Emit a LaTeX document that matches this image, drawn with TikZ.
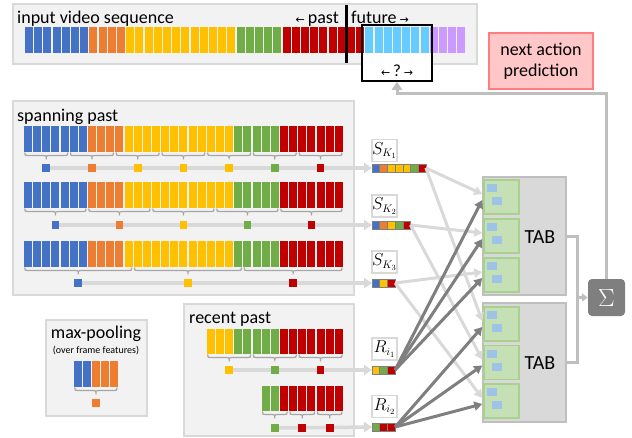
\documentclass[tikz,border=0pt]{standalone}
\usepackage{fontspec}
\setmainfont{Carlito}
\newfontfamily\arrowfont{DejaVu Sans}
\usetikzlibrary{arrows.meta,calc}
\definecolor{cB}{HTML}{4472C4}
\definecolor{cO}{HTML}{ED7D31}
\definecolor{cY}{HTML}{FFC000}
\definecolor{cG}{HTML}{70AD47}
\definecolor{cR}{HTML}{C00000}
\definecolor{cL}{HTML}{66CCFF}
\definecolor{cP}{HTML}{CC99FF}
\definecolor{panelfill}{HTML}{F2F2F2}
\definecolor{panelline}{HTML}{D9D9D9}
\definecolor{lightarr}{HTML}{D9D9D9}
\definecolor{darkarr}{HTML}{7F7F7F}
\definecolor{bracegray}{HTML}{A6A6A6}
\definecolor{tabfill}{HTML}{D9D9D9}
\definecolor{tabline}{HTML}{BFBFBF}
\definecolor{subfill}{HTML}{C5E0B4}
\definecolor{subline}{HTML}{A9D18E}
\definecolor{qfill}{HTML}{9DC3E6}
\definecolor{predfill}{HTML}{FFC7C7}
\definecolor{predline}{HTML}{FF7C80}
\pgfdeclarelayer{panels}
\pgfdeclarelayer{lines}
\pgfsetlayers{panels,lines,main}
\newcommand\larr{{\arrowfont\fontsize{11}{12}\selectfont ←}}
\newcommand\rarr{{\arrowfont\fontsize{11}{12}\selectfont →}}
\def\spanlist{cB,cB,cB,cB,cB,cB,cB,cO,cO,cO,cO,cY,cY,cY,cY,cY,cY,cY,cY,cY,cY,cY,cY,cG,cG,cG,cG,cG,cR,cR,cR,cR,cR,cR,cR}
\def\toplist{cB,cB,cB,cB,cB,cB,cB,cO,cO,cO,cO,cY,cY,cY,cY,cY,cY,cY,cY,cY,cY,cY,cY,cG,cG,cG,cG,cG,cR,cR,cR,cR,cR,cR,cR,cR,cR,cL,cL,cL,cL,cL,cL,cL,cP,cP,cP,cP}
\def\recentA{cY,cY,cY,cG,cG,cG,cG,cG,cR,cR,cR,cR,cR,cR,cR}
\def\recentB{cG,cG,cR,cR,cR,cR,cR,cR,cR}
\def\poollist{cB,cB,cO,cO,cO}
% x0, ytop, pitch, height, list
\newcommand\frameseq[5]{\foreach \c [count=\i from 0] in #5 {\fill[\c] ({#1+\i*#3},#2) rectangle ++({#3-1.2},#4);}}
% x0, pitch, a, b, ybrace, ydot, colour, name
\newcommand\grp[8]{%
  \pgfmathsetmacro\gxa{#1+#3*#2+0.8}%
  \pgfmathsetmacro\gxb{#1+#4*#2-2}%
  \pgfmathsetmacro\gxm{(\gxa+\gxb)/2}%
  \pgfmathsetmacro\gya{#5+3}%
  \pgfmathsetmacro\gyb{#5+6.5}%
  \draw[bracestyle] (\gxa,#5) .. controls (\gxa,\gya) .. ({\gxa+3},\gya) -- ({\gxm-3},\gya)
     .. controls (\gxm,\gya) .. (\gxm,\gyb) .. controls (\gxm,\gya) .. ({\gxm+3},\gya)
     -- ({\gxb-3},\gya) .. controls (\gxb,\gya) .. (\gxb,#5);
  \node[fdot,fill=#7] (#8) at (\gxm,#6) {};}
\tikzset{
  panel/.style={fill=panelfill, draw=panelline, line width=2pt},
  bracestyle/.style={draw=bracegray, line width=1.2pt, line join=round},
  fdot/.style={minimum size=7.7pt, inner sep=0pt, outer sep=0pt, draw=none},
  rowline/.style={draw=lightarr, line width=3.5pt, -{Triangle[length=8pt,width=10pt]}},
  lightcon/.style={draw=lightarr, line width=3pt, -{Triangle[length=8pt,width=9pt]}},
  darkcon/.style={draw=darkarr, line width=3pt, -{Triangle[length=8pt,width=9pt]}},
  lbox/.style={draw=panelline, fill=white, line width=1.2pt, minimum width=25pt, minimum height=22pt, inner sep=0pt, font=\fontsize{16}{18}\selectfont},
  fstrip/.style={minimum height=7.7pt, inner sep=0pt, outer sep=0pt, anchor=west},
  sq/.style={draw=darkarr, line width=0.6pt},
  tabbox/.style={fill=tabfill, draw=tabline, line width=1.5pt, minimum width=83pt, minimum height=118pt, inner sep=0pt},
  subbox/.style={fill=subfill, draw=subline, line width=1.5pt, minimum width=35pt, minimum height=34pt, inner sep=0pt},
  sumline/.style={draw=tabline, line width=3pt},
  txt/.style={inner sep=0pt, font=\fontsize{18}{21}\selectfont},
}
\begin{document}
\begin{tikzpicture}[x=1pt,y=-1pt]
\useasboundingbox (0,0) rectangle (632,437);
\begin{pgfonlayer}{panels}
  \draw[panel] (13,4) rectangle (477,64);
  \draw[panel] (13,101) rectangle (354,295);
  \draw[panel] (184,304) rectangle (354,436);
  \draw[panel] (46,320) rectangle (147,416);
\end{pgfonlayer}
% top sequence
\node[txt, anchor=base west] (title) at (17,23) {input video sequence};
\fill[white] (362,53) rectangle (432,81);
\frameseq{25}{27}{9.2}{26}{\toplist}
\draw[line width=3pt] (346,5) -- (346,63);
\node[txt, anchor=base east] (past) at (339,23) {\larr\,past};
\node[txt, anchor=base west] (fut) at (351,23) {future\,\rarr};
\node[draw=black, line width=1.5pt, minimum width=70pt, minimum height=56pt, inner sep=0pt] (qbox) at (397,53) {};
\node[txt, font=\fontsize{17}{18}\selectfont] (qtxt) at (397,71) {\larr\,?\,\rarr};
\node[fill=predfill, draw=predline, line width=1.5pt, minimum width=104pt, minimum height=56pt, align=center, inner sep=0pt, font=\fontsize{18}{21}\selectfont] (pred) at (541,61) {next action\\prediction};
% spanning past
\node[txt, anchor=base west] (span) at (17,121) {spanning past};
\frameseq{24}{126}{9.143}{26}{\spanlist}
\frameseq{24}{182}{9.143}{26}{\spanlist}
\frameseq{24}{241}{9.143}{26}{\spanlist}
\grp{24}{9.143}{0}{5}{152.5}{168}{cB}{a1}
\grp{24}{9.143}{5}{10}{152.5}{168}{cO}{a2}
\grp{24}{9.143}{10}{15}{152.5}{168}{cY}{a3}
\grp{24}{9.143}{15}{20}{152.5}{168}{cY}{a4}
\grp{24}{9.143}{20}{25}{152.5}{168}{cY}{a5}
\grp{24}{9.143}{25}{30}{152.5}{168}{cG}{a6}
\grp{24}{9.143}{30}{35}{152.5}{168}{cR}{a7}
\grp{24}{9.143}{0}{7}{208.5}{225}{cB}{b1}
\grp{24}{9.143}{7}{14}{208.5}{225}{cO}{b2}
\grp{24}{9.143}{14}{21}{208.5}{225}{cY}{b3}
\grp{24}{9.143}{21}{28}{208.5}{225}{cG}{b4}
\grp{24}{9.143}{28}{35}{208.5}{225}{cR}{b5}
\grp{24}{9.143}{0}{12}{267.5}{283}{cB}{c1}
\grp{24}{9.143}{12}{24}{267.5}{283}{cY}{c2}
\grp{24}{9.143}{24}{35}{267.5}{283}{cR}{c3}
% recent past
\node[txt, anchor=base west] (rec) at (189,323) {recent past};
\frameseq{206.9}{329}{9.143}{25}{\recentA}
\frameseq{261.7}{386}{9.143}{25}{\recentB}
\grp{206.9}{9.143}{0}{5}{354.5}{370}{cY}{d1}
\grp{206.9}{9.143}{5}{10}{354.5}{370}{cG}{d2}
\grp{206.9}{9.143}{10}{15}{354.5}{370}{cR}{d3}
\grp{261.7}{9.143}{0}{3}{411.5}{428}{cG}{e1}
\grp{261.7}{9.143}{3}{6}{411.5}{428}{cR}{e2}
\grp{261.7}{9.143}{6}{9}{411.5}{428}{cR}{e3}
% max pooling
\node[txt] (mp) at (96,334) {max-pooling};
\node[inner sep=0pt, font=\fontsize{10}{12}\selectfont] (mpsub) at (96,351) {(over frame features)};
\frameseq{74}{361}{9}{26}{\poollist}
\grp{74}{9}{0}{5}{387.5}{403}{cO}{m1}
% feature strips and labels
\node[lbox] (lk1) at (384.5,150.5) {$S_{K_1}$};
\node[lbox] (lk2) at (384.5,206) {$S_{K_2}$};
\node[lbox] (lk3) at (384.5,262) {$S_{K_3}$};
\node[lbox] (li1) at (384.5,349) {$R_{i_1}$};
\node[lbox] (li2) at (384.5,406.5) {$R_{i_2}$};
\node[fstrip, minimum width=53.9pt] (sk1) at (372,168) {};
\node[fstrip, minimum width=38.5pt] (sk2) at (372,225) {};
\node[fstrip, minimum width=23.1pt] (sk3) at (372,283) {};
\node[fstrip, minimum width=23.1pt] (ri1) at (372,370) {};
\node[fstrip, minimum width=23.1pt] (ri2) at (372,427) {};
\foreach \c [count=\i from 0] in {cB,cO,cY,cY,cY,cG,cR} \filldraw[sq, fill=\c] ($(sk1.west)+(\i*7.7,-3.85)$) rectangle ++(7.7,7.7);
\foreach \c [count=\i from 0] in {cB,cO,cY,cG,cR} \filldraw[sq, fill=\c] ($(sk2.west)+(\i*7.7,-3.85)$) rectangle ++(7.7,7.7);
\foreach \c [count=\i from 0] in {cB,cY,cR} \filldraw[sq, fill=\c] ($(sk3.west)+(\i*7.7,-3.85)$) rectangle ++(7.7,7.7);
\foreach \c [count=\i from 0] in {cY,cG,cR} \filldraw[sq, fill=\c] ($(ri1.west)+(\i*7.7,-3.85)$) rectangle ++(7.7,7.7);
\foreach \c [count=\i from 0] in {cG,cR,cR} \filldraw[sq, fill=\c] ($(ri2.west)+(\i*7.7,-3.85)$) rectangle ++(7.7,7.7);
\begin{pgfonlayer}{lines}
  \draw[rowline] (a1.center) -- (sk1.west);
  \draw[rowline] (b1.center) -- (sk2.west);
  \draw[rowline] (c1.center) -- (sk3.west);
  \draw[rowline] (d1.center) -- (ri1.west);
  \draw[rowline] (e1.center) -- (ri2.west);
\end{pgfonlayer}
% TAB blocks
\node[tabbox] (tab1) at (524.5,236) {};
\node[tabbox, minimum height=119pt] (tab2) at (524.5,362.5) {};
\node[subbox] (t11) at (501.5,197) {};
\node[subbox] (t12) at (501.5,236) {};
\node[subbox] (t13) at (501.5,275) {};
\node[subbox] (t21) at (501.5,324) {};
\node[subbox] (t22) at (501.5,362.5) {};
\node[subbox] (t23) at (501.5,401) {};
\foreach \b in {t11,t12,t13,t21,t22,t23} {
  \fill[qfill] ($(\b.north west)+(4,5)$) rectangle ++(10,8);
  \fill[qfill] ($(\b.north west)+(9,18)$) rectangle ++(10,8);
}
\node[txt, font=\fontsize{20}{22}\selectfont] (tabl1) at (540,237) {TAB};
\node[txt, font=\fontsize{20}{22}\selectfont] (tabl2) at (540,363) {TAB};
% connectors to TAB
\draw[lightcon] (sk1.east) -- ($(t11.west)+(-1,-3)$);
\draw[lightcon] (sk1.east) -- ($(t21.west)+(-1,-3)$);
\draw[lightcon] (sk2.east) -- ($(t12.west)+(-1,-3)$);
\draw[lightcon] (sk2.east) -- ($(t22.west)+(-1,-3)$);
\draw[lightcon] (sk3.east) -- ($(t13.west)+(-1,-3)$);
\draw[lightcon] (sk3.east) -- ($(t23.west)+(-1,-3)$);
\draw[darkcon] (ri1.east) -- ($(t11.west)+(-1,3)$);
\draw[darkcon] (ri1.east) -- ($(t12.west)+(-1,3)$);
\draw[darkcon] (ri1.east) -- ($(t13.west)+(-1,3)$);
\draw[darkcon] (ri2.east) -- ($(t21.west)+(-1,3)$);
\draw[darkcon] (ri2.east) -- ($(t22.west)+(-1,3)$);
\draw[darkcon] (ri2.east) -- ($(t23.west)+(-1,3)$);
% sum
\node[fill=darkarr, rounded corners=4pt, minimum size=37pt, inner sep=0pt, text=white, font=\fontsize{24}{26}\selectfont] (sigma) at (606.5,297.5) {$\Sigma$};
\coordinate (jn) at (577,297.5);
\draw[sumline] (tab1.east) -| (jn) |- (tab2.east);
\draw[sumline, -{Triangle[length=6pt,width=8pt]}] (jn) -- (sigma.west);
\draw[sumline, -{Triangle[length=8pt,width=10pt]}] (sigma.north) |- ($(qbox.south)+(0,12)$) -- (qbox.south);
\end{tikzpicture}
\end{document}
